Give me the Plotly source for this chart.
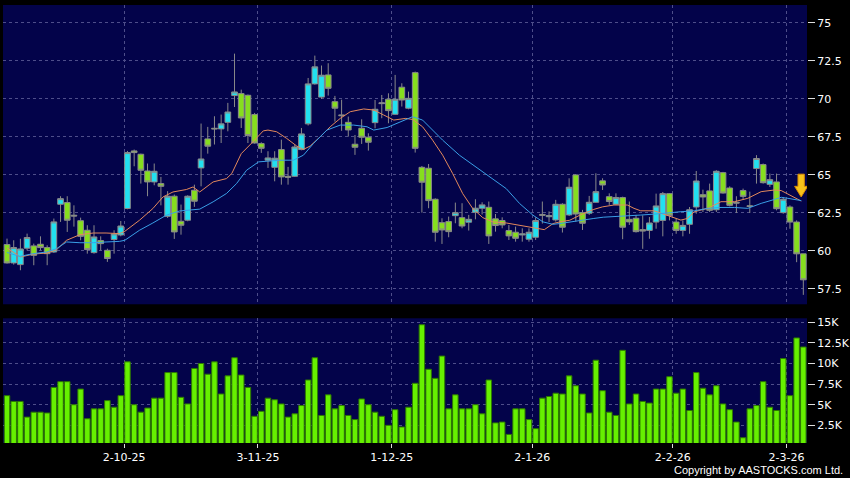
import plotly.graph_objects as go

# ---------------- data ----------------
opens = [60.42, 59.21, 59.10, 60.18, 60.33, 60.44, 60.22, 59.93, 63.07, 63.18,
         62.35, 61.99, 61.36, 59.89, 60.68, 60.04, 60.75, 61.05, 62.79, 66.58,
         66.36, 65.26, 64.54, 64.43, 62.28, 63.60, 61.95, 62.02, 63.99, 65.46,
         67.37, 68.07, 68.03, 68.46, 70.22, 70.35, 70.24, 68.97, 67.06, 65.97,
         65.50, 66.67, 64.91, 64.91, 66.67, 68.36, 70.99, 70.12, 71.58, 69.82,
         68.95, 68.46, 67.02, 68.07, 67.48, 68.44, 69.69, 69.98, 68.99, 70.77,
         69.39, 71.73, 65.50, 65.44, 63.40, 61.86, 61.93, 62.32, 62.19, 61.89,
         62.54, 62.81, 62.87, 62.11, 62.00, 61.34, 61.23, 61.05, 60.77, 60.90,
         62.40, 62.25, 62.04, 63.07, 62.37, 65.00, 62.52, 62.48, 63.20, 64.61,
         63.57, 63.07, 63.51, 62.08, 62.15, 61.40, 61.35, 61.90, 62.01, 63.77,
         61.90, 61.35, 61.75, 62.89, 63.70, 63.95, 62.71, 65.15, 64.14, 63.20,
         63.97, 62.97, 65.42, 65.68, 64.38, 64.54, 62.52, 62.89, 61.90, 59.81]
highs = [60.81, 60.70, 60.80, 61.14, 60.48, 60.96, 60.37, 62.13, 63.60, 63.60,
         63.00, 62.19, 61.69, 61.69, 60.96, 60.15, 61.36, 61.97, 66.58, 66.67,
         66.40, 65.75, 65.75, 64.87, 63.93, 63.71, 63.05, 63.66, 64.36, 68.38,
         68.16, 68.86, 68.97, 69.74, 72.98, 70.61, 70.29, 69.08, 67.15, 66.56,
         66.56, 67.32, 65.53, 66.99, 68.09, 71.38, 72.85, 72.20, 72.35, 70.20,
         69.95, 68.84, 67.63, 68.66, 67.74, 69.93, 70.26, 70.37, 71.58, 71.03,
         70.48, 71.80, 65.59, 65.72, 63.46, 62.15, 62.26, 63.18, 63.14, 62.37,
         63.40, 63.20, 63.25, 62.43, 62.21, 61.71, 61.60, 61.49, 61.49, 62.21,
         63.25, 62.60, 63.36, 63.14, 64.78, 65.04, 62.70, 63.62, 65.11, 64.78,
         63.79, 63.79, 63.57, 63.25, 62.37, 62.34, 62.23, 63.77, 63.88, 63.81,
         62.12, 62.01, 62.89, 65.26, 64.03, 64.43, 65.31, 65.20, 64.25, 63.60,
         64.10, 63.90, 66.30, 65.75, 65.09, 65.09, 63.55, 63.00, 62.01, 59.81]
lows = [59.17, 59.10, 58.73, 60.04, 59.06, 60.04, 59.06, 59.87, 61.91, 61.25,
        61.60, 60.70, 59.82, 59.82, 60.04, 59.28, 59.82, 60.96, 62.74, 65.57,
        64.43, 63.60, 64.32, 63.00, 62.17, 60.79, 61.07, 61.95, 62.90, 64.25,
        66.40, 67.00, 67.10, 67.87, 69.47, 68.09, 67.10, 67.06, 66.45, 65.46,
        64.58, 64.36, 64.36, 64.87, 66.62, 68.25, 70.94, 70.00, 70.22, 68.51,
        67.90, 67.52, 66.32, 67.04, 66.60, 68.07, 68.73, 68.40, 68.95, 69.50,
        69.32, 66.47, 62.52, 62.81, 60.61, 60.46, 60.90, 61.82, 61.49, 61.34,
        62.08, 62.40, 60.46, 61.27, 61.49, 60.72, 60.61, 60.61, 60.61, 60.72,
        61.80, 61.90, 61.93, 61.21, 62.30, 61.93, 61.38, 62.37, 63.18, 64.01,
        63.03, 63.03, 60.77, 61.71, 61.21, 60.14, 60.80, 61.46, 60.96, 62.01,
        61.13, 60.96, 61.13, 62.45, 62.56, 62.56, 62.56, 63.77, 62.93, 62.50,
        63.40, 62.50, 64.43, 64.43, 64.21, 62.67, 62.45, 61.46, 59.26, 57.11]
closes = [59.21, 60.22, 60.13, 60.88, 59.71, 60.22, 59.82, 61.91, 63.44, 62.02,
          62.30, 60.96, 60.09, 60.92, 60.48, 59.50, 61.12, 61.64, 66.47, 66.47,
          65.31, 64.54, 65.24, 64.25, 63.60, 61.25, 61.69, 63.60, 63.27, 66.05,
          66.89, 68.03, 68.36, 69.14, 70.46, 68.75, 67.59, 67.10, 66.75, 66.12,
          66.10, 64.87, 64.85, 66.84, 67.70, 70.99, 72.11, 71.56, 70.70, 69.39,
          68.90, 67.96, 66.82, 67.48, 67.15, 69.32, 69.74, 69.23, 69.98, 69.93,
          70.04, 66.75, 64.52, 63.31, 61.23, 61.38, 61.27, 62.52, 61.64, 62.08,
          62.81, 63.03, 60.99, 61.67, 61.71, 60.99, 60.83, 61.12, 61.23, 62.00,
          62.35, 62.32, 63.07, 61.56, 64.19, 62.43, 61.82, 63.20, 63.90, 64.34,
          63.25, 63.51, 61.56, 61.91, 61.27, 61.31, 61.84, 62.96, 63.77, 62.34,
          61.35, 61.68, 62.71, 64.60, 63.55, 62.67, 65.24, 63.81, 63.00, 63.15,
          63.59, 62.93, 66.08, 64.49, 64.69, 62.78, 63.40, 61.90, 59.81, 58.10]
volumes_k = [6.1, 5.4, 5.4, 3.5, 4.1, 4.1, 4.0, 7.1, 7.8, 7.8, 5.0, 6.9, 3.3, 4.5, 4.5, 5.5, 4.7, 6.1, 10.2, 5.0, 4.1, 4.6, 5.8, 5.8,
             8.9, 8.9, 5.9, 5.1, 9.4, 10.0, 8.7, 10.2, 6.3, 8.5, 10.7, 8.6, 7.1, 3.6, 4.2, 5.8, 5.6, 5.1, 3.5, 3.9, 4.9, 8.0, 10.7, 3.7,
             6.2, 4.5, 4.9, 3.7, 3.2, 5.7, 5.0, 4.1, 3.6, 2.5, 4.4, 2.3, 4.7, 7.6, 14.7, 9.3, 8.2, 10.9, 4.5, 6.2, 4.5, 4.5, 5.0, 3.9,
             8.0, 2.8, 2.9, 1.4, 4.5, 4.5, 3.2, 2.1, 5.8, 6.0, 6.4, 6.3, 8.5, 7.3, 6.3, 4.0, 10.4, 6.7, 4.1, 3.7, 11.6, 5.1, 6.3, 5.4,
             5.2, 6.9, 6.9, 8.4, 6.4, 6.9, 4.3, 8.9, 7.0, 6.2, 7.3, 5.1, 4.4, 2.9, 1.0, 4.5, 4.9, 7.8, 4.7, 4.3, 10.6, 6.1, 13.1, 12.0]

# moving-average lines, read point by point (bar index, price)
ma_short_x = [0, 2, 4, 6, 7.4, 8.9, 10.9, 12.9, 14.8, 16.8, 17.6, 19.8, 21.8, 23.3, 24.8, 26.8, 27.8, 28.8,
              30.8, 32.8, 33.6, 35, 36.8, 38.3, 39, 40.3, 41.8, 43.3, 44.3, 45.3, 46.8, 48.3, 49.8, 51.3,
              53.3, 54.8, 56.3, 57.8, 59.6, 60.6, 62.1, 63.6, 65.1, 66.6, 68.1, 69.6, 71.1, 72.6, 74.6,
              76.6, 78.6, 80.3, 81.6, 82.6, 84.1, 85.6, 87.6, 89, 90.7, 92.7, 93.7, 94.7, 96.7, 98.7,
              100.7, 101.7, 102.7, 104.7, 106.7, 108.7, 110.7, 112.7, 114.7, 115.7, 116.7, 118.7]
ma_short_y = [60.2, 59.6, 59.8, 59.86, 60.08, 60.7, 61.07, 61.18, 61.18, 61.14, 61.29, 62.02, 62.79, 63.55, 63.88, 64.04, 64.21, 63.88,
              64.54, 64.76, 65.1, 66.4, 67.2, 67.9, 67.95, 67.84, 67.4, 66.9, 66.68, 66.9, 67.51, 68.17, 68.72, 69.16,
              69.34, 69.27, 68.94, 68.61, 68.72, 68.65, 68.17, 67.29, 66.3, 65.09, 63.77, 62.79, 62.19, 61.91, 61.84,
              61.69, 61.53, 61.40, 61.80, 61.91, 62.02, 62.35, 62.72, 62.9, 63.02, 63.02, 62.80, 62.64, 62.64, 62.36,
              62.03, 62.14, 62.58, 62.80, 63.24, 63.24, 63.46, 63.90, 64.01, 63.97, 63.75, 63.28]
ma_long_x = [0, 1.9, 3.9, 5.9, 7.4, 8.9, 10.9, 12.9, 14.8, 16.8, 17.6, 19.8, 21.8, 23.8, 25.8, 27.8, 28.8,
             30.8, 32.8, 34.3, 35.8, 37.6, 38.8, 40.8, 42.8, 44.3, 45.8, 47.8, 49.8, 51.8, 53.8, 54.8, 56.8,
             58.8, 60.6, 62.1, 63.6, 65.1, 67.6, 70.1, 72.6, 74.6, 76.6, 78.6, 80.1, 81.6, 82.6, 84.1, 85.6,
             87.6, 89.1, 90.7, 92.7, 94.7, 96.7, 98.7, 100.7, 102.7, 104.7, 106.7, 108.7, 110.7, 112.7,
             114.7, 115.7, 116.7, 118.7]
ma_long_y = [59.9, 59.64, 59.82, 59.93, 60.15, 60.59, 60.54, 60.54, 60.59, 60.63, 60.7, 61.36, 61.84, 62.35, 62.63, 62.72, 62.75,
             63.23, 63.78, 64.43, 65.31, 65.86, 65.91, 65.97, 65.97, 66.3, 67.07, 67.95, 68.28, 68.28, 68.17, 67.95, 68.12,
             68.5, 68.83, 68.61, 67.95, 67.29, 66.30, 65.53, 64.76, 64.10, 63.12, 62.35, 61.91, 61.75, 61.80, 61.91, 62.02,
             62.13, 62.22, 62.25, 62.29, 62.36, 62.42, 62.51, 62.58, 62.64, 62.80, 62.86, 62.86, 62.80, 63.13,
             63.39, 63.53, 63.46, 63.31]

date_tick_pos = [17.5, 37.5, 57.5, 78.5, 99.5, 116.5]
date_tick_labels = ["2-10-25", "3-11-25", "1-12-25", "2-1-26", "2-2-26", "2-3-26"]
price_ticks = [57.5, 60, 62.5, 65, 67.5, 70, 72.5, 75]
price_labels = ["57.5", "60", "62.5", "65", "67.5", "70", "72.5", "75"]
vol_ticks = [2.5, 5, 7.5, 10, 12.5, 15]
vol_labels = ["2.5K", "5K", "7.5K", "10K", "12.5K", "15K"]

# ---------------- figure ----------------
idx = list(range(len(closes)))
GRID = "#4E4E8A"
NAVY = "#03034A"
TICKFONT = dict(family="DejaVu Sans", size=11, color="#FFFFFF")

fig = go.Figure()
fig.add_trace(go.Candlestick(
    x=idx, open=opens, high=highs, low=lows, close=closes,
    xaxis="x", yaxis="y",
    increasing=dict(fillcolor="#22E0F0", line=dict(color="#8A8A8A", width=1)),
    decreasing=dict(fillcolor="#86DE1E", line=dict(color="#8A8A8A", width=1)),
    whiskerwidth=0, showlegend=False, hoverinfo="skip"))
fig.add_trace(go.Scatter(x=ma_short_x, y=ma_short_y, mode="lines", xaxis="x", yaxis="y",
                         line=dict(color="#E3895C", width=1), showlegend=False, hoverinfo="skip"))
fig.add_trace(go.Scatter(x=ma_long_x, y=ma_long_y, mode="lines", xaxis="x", yaxis="y",
                         line=dict(color="#3A9FE6", width=1), showlegend=False, hoverinfo="skip"))
fig.add_trace(go.Bar(x=idx, y=volumes_k, xaxis="x2", yaxis="y2", width=0.82,
                     marker=dict(color="#66F000", line=dict(color="#2E7A00", width=1)),
                     showlegend=False, hoverinfo="skip"))

xr = [-0.6, 119.55]
fig.update_layout(
    width=850, height=478,
    margin=dict(l=3, r=43, t=5, b=35),
    paper_bgcolor="#000000", plot_bgcolor=NAVY,
    boxgap=0.15, boxgroupgap=0,
    hovermode=False,
    xaxis=dict(domain=[0, 1], range=xr, anchor="y", tickvals=date_tick_pos, showticklabels=False,
               showgrid=True, gridcolor=GRID, griddash="3px,3px", gridwidth=1, zeroline=False,
               rangeslider=dict(visible=False), ticks="", fixedrange=True, automargin=False),
    yaxis=dict(domain=[0.3167, 1], range=[56.49, 76.18], side="right", anchor="x",
               tickvals=price_ticks, ticktext=price_labels, ticks="outside", ticklen=7, tickcolor="#DDDDDD",
               tickfont=TICKFONT, showgrid=True, gridcolor=GRID, griddash="3px,3px", zeroline=False,
               automargin=False),
    xaxis2=dict(domain=[0, 1], range=xr, anchor="y2", tickvals=date_tick_pos, ticktext=date_tick_labels,
                ticks="outside", ticklen=4, tickcolor="#DDDDDD", tickfont=TICKFONT,
                showgrid=True, gridcolor=GRID, griddash="3px,3px", zeroline=False, automargin=False),
    yaxis2=dict(domain=[0, 0.2847], range=[0.36, 15.48], side="right", anchor="x2",
                tickvals=vol_ticks, ticktext=vol_labels, ticks="outside", ticklen=7, tickcolor="#DDDDDD",
                tickfont=TICKFONT, showgrid=True, gridcolor=GRID, griddash="3px,3px", zeroline=False,
                automargin=False),
)

# yellow down arrow at the end of the moving averages
fig.add_shape(type="path", xref="x", yref="y",
              path="M 118.2 65.05 L 119.15 65.05 L 119.15 64.25 L 119.65 64.25 L 118.68 63.55 "
                   "L 117.7 64.25 L 118.2 64.25 Z",
              fillcolor="#F6C21A", line=dict(color="#D98A00", width=1))

fig.add_annotation(text="Copyright by AASTOCKS.com Ltd.", xref="paper", yref="paper",
                   x=1.0473, y=-0.0616, xanchor="right", yanchor="middle", showarrow=False,
                   font=dict(family="Liberation Sans", size=11, color="#FFFFFF"))

fig.write_html("out.html",
               config={"displayModeBar": False, "staticPlot": True},
               post_script="document.body.style.margin='0';document.body.style.padding='0';"
                           "document.body.style.background='#000';")
